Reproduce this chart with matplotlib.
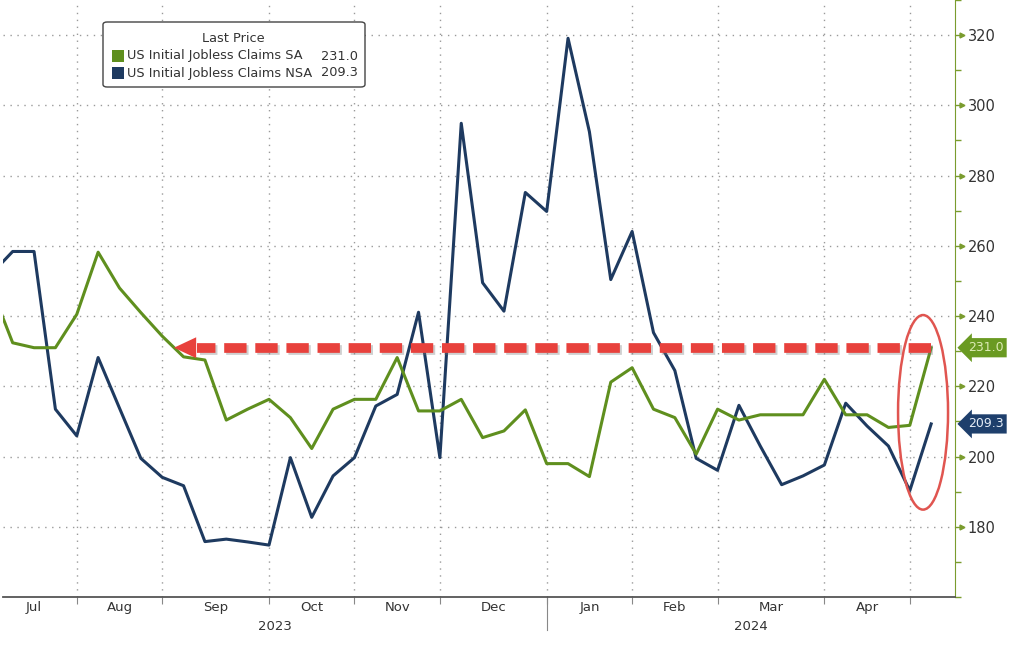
import numpy as np
import pandas as pd
import matplotlib
matplotlib.use('Agg')
import matplotlib.pyplot as plt
from matplotlib.patches import Ellipse, FancyBboxPatch, Rectangle
from matplotlib.ticker import MultipleLocator
from matplotlib.transforms import blended_transform_factory
from matplotlib import patheffects as pe
from matplotlib import font_manager

# weekly data, week ending saturday (thousands)
weeks = pd.date_range('2023-07-01', '2024-05-04', freq='W-SAT')
claims_sa = [248.0, 232.4, 231.0, 231.0, 240.5, 258.2, 248.0, 241.0, 234.3, 228.4,
             227.5, 210.4, 213.5, 216.3, 211.1, 202.3, 213.5, 216.3, 216.3, 228.2,
             213.0, 213.0, 216.3, 205.4, 207.3, 213.3, 198.0, 198.0, 194.3, 221.2,
             225.3, 213.5, 211.1, 200.7, 213.5, 210.4, 211.9, 211.9, 211.9, 222.0,
             211.9, 211.9, 208.3, 208.9, 231.0]
claims_nsa = [252.0, 258.4, 258.4, 213.5, 205.9, 228.2, 213.8, 199.5, 194.1, 191.7,
              175.8, 176.5, 175.7, 174.8, 199.7, 182.7, 194.5, 199.7, 214.4, 217.7,
              241.1, 199.7, 294.9, 249.5, 241.4, 275.2, 269.8, 319.1, 292.5, 250.4,
              264.1, 235.3, 224.5, 199.5, 196.1, 214.6, 203.0, 192.0, 194.5, 197.6,
              215.2, 208.7, 203.0, 190.3, 209.3]
series_names = ['US Initial Jobless Claims SA', 'US Initial Jobless Claims NSA']
y_ticks = [180, 200, 220, 240, 260, 280, 300, 320]

GREEN = '#5f8f1e'
NAVY = '#1e3a60'
RED = '#e8413c'
SPINE_GREEN = '#7a9c2e'

names = {f.name for f in font_manager.fontManager.ttflist}
narrow = 'Liberation Sans Narrow' if 'Liberation Sans Narrow' in names else 'DejaVu Sans'

x = np.arange(len(weeks)) - 1

fig = plt.figure(figsize=(10.24, 6.49), dpi=100)
ax = fig.add_axes([0.003, 0.080, 0.9297, 0.92])

ax.plot(x, claims_sa, color=GREEN, lw=2.2, zorder=4)
ax.plot(x, claims_nsa, color=NAVY, lw=2.2, zorder=3)

ax.set_xlim(-0.45, 44.12)
ax.set_ylim(160, 330)

# month boundaries = last week of each month
bounds = [i for i in range(len(weeks) - 1) if weeks[i].month != weeks[i + 1].month]
ax.set_xticks(x[bounds])
ax.set_xticklabels([])
ax.tick_params(axis='x', length=5, color='#888888', direction='out')

ax.yaxis.tick_right()
ax.set_yticks(y_ticks)
ax.yaxis.set_minor_locator(MultipleLocator(10))
ax.tick_params(axis='y', which='major', length=6, width=1, color=SPINE_GREEN,
               labelsize=10.5, labelcolor='#333333', pad=3)
ax.tick_params(axis='y', which='minor', length=4, width=1, color=SPINE_GREEN)

ax.grid(True, which='major', ls=(0, (1, 4)), color='#9a9a9a', lw=1)
for s in ['left', 'top']:
    ax.spines[s].set_visible(False)
ax.spines['right'].set_color(SPINE_GREEN)
ax.spines['bottom'].set_color('#555555')
ax.spines['bottom'].set_linewidth(1.3)

trans_xa = blended_transform_factory(ax.transData, ax.transAxes)
trans_ay = blended_transform_factory(ax.transAxes, ax.transData)

# small arrow heads on the y ticks
ax.plot([1.0075] * len(y_ticks), y_ticks, transform=trans_ay, ls='none', marker='>',
        ms=3.5, color=SPINE_GREEN, clip_on=False)

# month labels
prev = x[0]
for b in bounds:
    ax.text((prev + x[b]) / 2, -0.017, weeks[b].strftime('%b'), transform=trans_xa,
            ha='center', va='center', fontsize=9.5, family=narrow, color='#333333')
    prev = x[b]

# year labels
ybound = [i for i in range(len(weeks) - 1) if weeks[i].year != weeks[i + 1].year][0]
ax.plot([x[ybound]] * 2, [0, -0.055], transform=trans_xa, color='#888888', lw=0.8, clip_on=False)
xl = ax.get_xlim()
ax.text((xl[0] + x[ybound]) / 2, -0.049, str(weeks[0].year), transform=trans_xa,
        ha='center', va='center', fontsize=9.5, family=narrow, color='#333333')
ax.text((x[ybound] + xl[1]) / 2, -0.049, str(weeks[-1].year), transform=trans_xa,
        ha='center', va='center', fontsize=9.5, family=narrow, color='#333333')

# last value tags
ax.text(1.0135, claims_sa[-1], f'{claims_sa[-1]:.1f}', transform=trans_ay, ha='left', va='center',
        fontsize=9, color='#dcebb4', bbox=dict(boxstyle='larrow,pad=0.25', fc='#6a9a22', ec='none'))
ax.text(1.0135, claims_nsa[-1], f'{claims_nsa[-1]:.1f}', transform=trans_ay, ha='left', va='center',
        fontsize=9, color='#e4ecf6', bbox=dict(boxstyle='larrow,pad=0.25', fc='#1e3f6c', ec='none'))

# red dashed arrow at latest SA level
shadow = [pe.SimpleLineShadow(offset=(1.5, -1.5), shadow_color='#777777', alpha=0.35), pe.Normal()]
ax.plot([x[-1], 8.65], [claims_sa[-1]] * 2, color=RED, lw=7, dashes=(2.3, 0.9),
        dash_capstyle='butt', zorder=5, path_effects=shadow)
ax.annotate('', xy=(7.55, claims_sa[-1]), xytext=(8.75, claims_sa[-1]),
            arrowprops=dict(arrowstyle='-|>,head_length=1.6,head_width=0.75', color=RED,
                            lw=0, shrinkA=0, shrinkB=0, mutation_scale=10), zorder=5)

# circle around the last two weeks
ell = Ellipse((42.62, 212.6), 2.34, 55.4, fill=False, ec='#e05550', lw=1.8, zorder=6)
ax.add_patch(ell)

# legend box
def fx(px):
    return px / 1024


def fy(py):
    return 1 - py / 649


box = FancyBboxPatch((fx(103), fy(87)), fx(262), 65 / 649, boxstyle='round,pad=0,rounding_size=0.004',
                     transform=fig.transFigure, fc='white', ec='#444444', lw=1, zorder=10)
fig.add_artist(box)
fig.text(fx(233), fy(38), 'Last Price', ha='center', va='center', fontsize=9.3, color='#333333', zorder=11)
for i, (nm, col, val) in enumerate(zip(series_names, [GREEN, NAVY], [claims_sa[-1], claims_nsa[-1]])):
    yy = 56 + 17 * i
    fig.add_artist(Rectangle((fx(112), fy(yy + 6)), fx(12), 12 / 649, transform=fig.transFigure,
                             fc=col, ec='none', zorder=11))
    fig.text(fx(127), fy(yy), nm, ha='left', va='center', fontsize=9.3, color='#333333', zorder=11)
    fig.text(fx(358), fy(yy), f'{val:.1f}', ha='right', va='center', fontsize=9.3, color='#333333', zorder=11)

fig.savefig('out.png', dpi=100)
